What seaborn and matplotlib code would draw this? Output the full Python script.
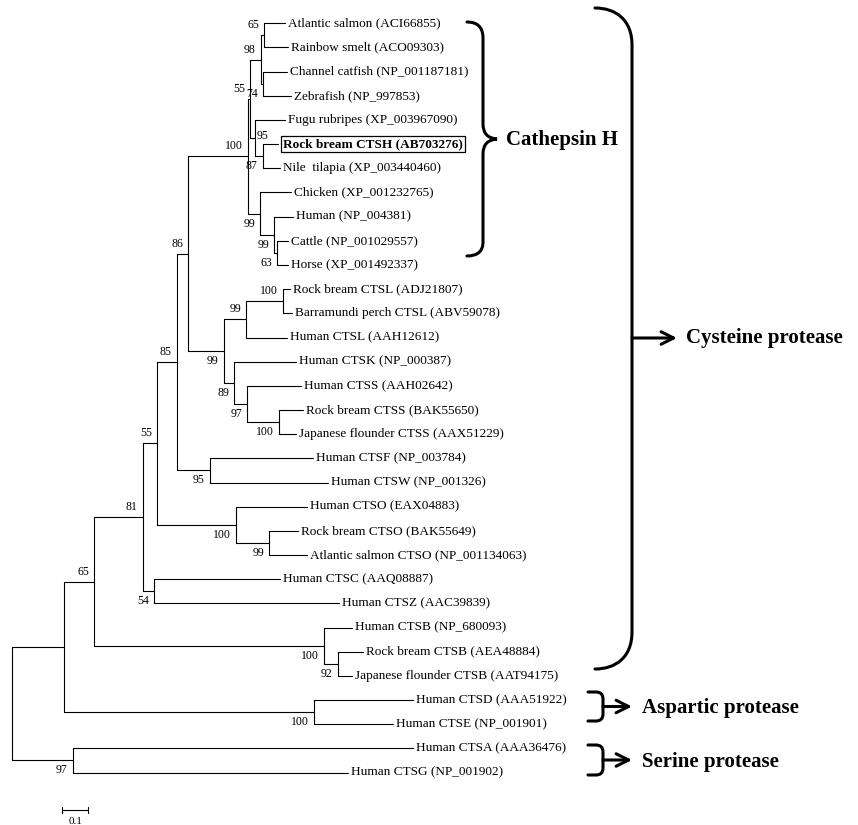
import matplotlib
matplotlib.use('Agg')
import pandas as pd
import matplotlib.pyplot as plt
import seaborn as sns
from matplotlib.path import Path
from matplotlib.patches import PathPatch
from matplotlib.transforms import Affine2D

# === Hojas del árbol (orden de arriba a abajo) ===
leaf_names = [
    'Atlantic salmon (ACI66855)', 'Rainbow smelt (ACO09303)',
    'Channel catfish (NP_001187181)', 'Zebrafish (NP_997853)',
    'Fugu rubripes (XP_003967090)', 'Rock bream CTSH (AB703276)',
    'Nile  tilapia (XP_003440460)', 'Chicken (XP_001232765)',
    'Human (NP_004381)', 'Cattle (NP_001029557)', 'Horse (XP_001492337)',
    'Rock bream CTSL (ADJ21807)', 'Barramundi perch CTSL (ABV59078)',
    'Human CTSL (AAH12612)', 'Human CTSK (NP_000387)', 'Human CTSS (AAH02642)',
    'Rock bream CTSS (BAK55650)', 'Japanese flounder CTSS (AAX51229)',
    'Human CTSF (NP_003784)', 'Human CTSW (NP_001326)', 'Human CTSO (EAX04883)',
    'Rock bream CTSO (BAK55649)', 'Atlantic salmon CTSO (NP_001134063)',
    'Human CTSC (AAQ08887)', 'Human CTSZ (AAC39839)', 'Human CTSB (NP_680093)',
    'Rock bream CTSB (AEA48884)', 'Japanese flounder CTSB (AAT94175)',
    'Human CTSD (AAA51922)', 'Human CTSE (NP_001901)',
    'Human CTSA (AAA36476)', 'Human CTSG (NP_001902)',
]
leaf_parent = [
    'nH65', 'nH65', 'nH74', 'nH74', 'nH95', 'nH87', 'nH87', 'nHV', 'nHM',
    'nHCH', 'nHCH', 'nL100', 'nL100', 'nL', 'nKS', 'nS', 'nS100', 'nS100',
    'nFW', 'nFW', 'nO', 'nO99', 'nO99', 'n54', 'n54', 'nB', 'nB92', 'nB92',
    'nAsp', 'nAsp', 'nSer', 'nSer',
]
leaf_len = [
    0.078, 0.090, 0.089, 0.104, 0.114, 0.059, 0.066, 0.117, 0.071,
    0.042, 0.042, 0.025, 0.032, 0.152, 0.236, 0.206, 0.091, 0.066,
    0.391, 0.448, 0.269, 0.111, 0.143, 0.477, 0.702, 0.105, 0.095, 0.054,
    0.375, 0.300, 1.288, 1.044,
]
highlight = 'Rock bream CTSH (AB703276)'

# === Nodos internos ===
node_ids = ['root', 'nA', 'n65', 'n81', 'n55', 'n85', 'n86', 'nH', 'nH55',
            'nH98', 'nH65', 'nH74', 'nH95', 'nH87', 'nHV', 'nHM', 'nHCH',
            'nLKS', 'nL', 'nL100', 'nKS', 'nS', 'nS100', 'nFW', 'nO', 'nO99',
            'n54', 'nB', 'nB92', 'nAsp', 'nSer']
node_parent = [None, 'root', 'nA', 'n65', 'n81', 'n55', 'n85', 'n86', 'nH',
               'nH55', 'nH98', 'nH98', 'nH55', 'nH95', 'nH', 'nHV', 'nHM',
               'n86', 'nLKS', 'nL', 'nLKS', 'nKS', 'nS', 'n85', 'n55', 'nO',
               'n81', 'n65', 'nB', 'nA', 'root']
node_len = [0.0, 0.199, 0.114, 0.183, 0.055, 0.073, 0.044, 0.225, 0.009,
            0.041, 0.014, 0.010, 0.019, 0.029, 0.049, 0.052, 0.011,
            0.135, 0.086, 0.139, 0.039, 0.049, 0.121, 0.126, 0.297, 0.126,
            0.043, 0.870, 0.051, 0.944, 0.230]
node_boot = [None, None, 65, 81, 55, 85, 86, 100, 55,
             98, 65, 74, 95, 87, 99, 99, 63,
             99, 99, 100, 89, 97, 100, 95, 100, 99,
             54, 100, 92, 100, 97]
# posición de la etiqueta bootstrap: a = arriba, b = abajo, r = derecha
boot_side = ['', '', 'a', 'a', 'a', 'a', 'a', 'a', 'a',
             'a', 'a', 'b', 'r', 'b', 'b', 'b', 'b',
             'b', 'a', 'a', 'b', 'b', 'b', 'b', 'b', 'b',
             'b', 'b', 'b', 'b', 'b']

groups = ['Cathepsin H', 'Cysteine protease', 'Aspartic protease', 'Serine protease']
scale_len = 0.1

# === Geometría: px de la imagen <-> unidades ===
W, H = 858, 825
X0, SX = 11.8, 264.0      # raíz en px, px por unidad de distancia
Y0, SY = 23.3, 24.17      # primera hoja en px, px por hoja

# x de cada nodo
x_of = {'root': 0.0}
for nid, par, bl in zip(node_ids[1:], node_parent[1:], node_len[1:]):
    x_of[nid] = x_of[par] + bl

children = {n: [] for n in node_ids}
for i, p in enumerate(leaf_parent):
    children[p].append(('leaf', i))
for n, p in zip(node_ids, node_parent):
    if p:
        children[p].append(('node', n))

y_of = {}
def node_y(n):
    if n not in y_of:
        ys = [c if k == 'leaf' else node_y(c) for k, c in children[n]]
        y_of[n] = (min(ys) + max(ys)) / 2
    return y_of[n]
for n in node_ids:
    node_y(n)

# === Segmentos de ramas ===
rows = []
seg = 0
for i, (p, bl) in enumerate(zip(leaf_parent, leaf_len)):
    rows += [(seg, x_of[p], i), (seg, x_of[p] + bl, i)]
    seg += 1
for n, p in zip(node_ids, node_parent):
    if p:
        rows += [(seg, x_of[p], y_of[n]), (seg, x_of[n], y_of[n])]
        seg += 1
    ys = [c if k == 'leaf' else y_of[c] for k, c in children[n]]
    rows += [(seg, x_of[n], min(ys)), (seg, x_of[n], max(ys))]
    seg += 1
df = pd.DataFrame(rows, columns=['seg', 'x', 'y'])

# === Gráfico ===
sns.set_theme(style='white')
plt.rcParams['font.family'] = ['Liberation Serif', 'DejaVu Serif']
plt.rcParams['text.color'] = 'black'

fig = plt.figure(figsize=(W / 100, H / 100), dpi=100)
ax = fig.add_axes([0, 0, 1, 1])
sns.lineplot(data=df, x='x', y='y', units='seg', estimator=None, sort=False,
             color='black', linewidth=0.8, legend=False, ax=ax)
ax.set_xlim(-X0 / SX, (W - X0) / SX)
ax.set_ylim((H - Y0) / SY, -Y0 / SY)
ax.axis('off')

dx = lambda px: px / SX
dy = lambda px: px / SY

# nombres de las hojas
for i, (name, p, bl) in enumerate(zip(leaf_names, leaf_parent, leaf_len)):
    xe = x_of[p] + bl + dx(3)
    if name == highlight:
        ax.text(xe + dx(2), i, name, fontsize=9.5, fontweight='bold',
                va='center', ha='left',
                bbox=dict(boxstyle='square,pad=0.15', fc='none', ec='black', lw=0.9))
    else:
        ax.text(xe, i, name, fontsize=9.5, va='center', ha='left')

# valores bootstrap
for n, b, side in zip(node_ids, node_boot, boot_side):
    if b is None:
        continue
    if side == 'r':
        ax.text(x_of[n] + dx(2), y_of[n] - dy(2), str(b), fontsize=8.5,
                ha='left', va='center')
    else:
        off = -dy(10) if side == 'a' else dy(10)
        ax.text(x_of[n] - dx(5), y_of[n] + off, str(b), fontsize=8.5,
                ha='right', va='center')

# barra de escala
sx0 = dx(62 - X0)
sy = dy(810 - Y0)
ax.plot([sx0, sx0 + scale_len], [sy, sy], color='black', lw=0.8)
for xx in (sx0, sx0 + scale_len):
    ax.plot([xx, xx], [sy - dy(3), sy + dy(3)], color='black', lw=0.8)
ax.text(sx0 + scale_len / 2, sy + dy(11), str(scale_len), fontsize=8,
        ha='center', va='center')

# === Llaves y flechas (en px de la imagen) ===
px = Affine2D().scale(1 / W, -1 / H).translate(0, 1) + fig.transFigure
M, L, Q, C = Path.MOVETO, Path.LINETO, Path.CURVE3, Path.CURVE4

def draw(verts, codes):
    ax.add_patch(PathPatch(Path(verts, codes), transform=px, fc='none',
                           ec='black', lw=2.2, clip_on=False, capstyle='round'))

def arrow(x1, x2, y):
    ax.annotate('', xy=(x2, y), xytext=(x1, y), xycoords=px, textcoords=px,
                arrowprops=dict(arrowstyle='->,head_length=0.9,head_width=0.45',
                                lw=2.2, color='black', shrinkA=0, shrinkB=0,
                                mutation_scale=10))

# Cathepsin H
draw([(467, 22), (483, 22), (483, 38), (483, 124), (483, 138), (497, 139),
      (483, 140), (483, 154), (483, 242), (483, 256), (467, 256)],
     [M, Q, Q, L, Q, Q, Q, Q, L, Q, Q])
ax.text(506, 140, groups[0], transform=px, fontsize=15, fontweight='bold',
        ha='left', va='center')

# Cysteine protease
draw([(595, 8), (616, 8), (632, 20), (632, 45), (632, 632), (632, 657),
      (616, 669), (595, 669)],
     [M, C, C, C, L, C, C, C])
arrow(632, 677, 338)
ax.text(686, 338, groups[1], transform=px, fontsize=15, fontweight='bold',
        ha='left', va='center')

# Aspartic protease / Serine protease
for (yt, yb), label in zip([(692, 721), (745, 775)], groups[2:]):
    ym = (yt + yb) / 2
    draw([(588, yt), (596, yt), (603, yt), (603, yt + 7), (603, yb - 7),
          (603, yb), (596, yb), (588, yb)],
         [M, L, Q, Q, L, Q, Q, L])
    arrow(603, 632, ym)
    ax.text(642, ym + 2, label, transform=px, fontsize=15, fontweight='bold',
            ha='left', va='center')

plt.savefig('out.png', dpi=100)
